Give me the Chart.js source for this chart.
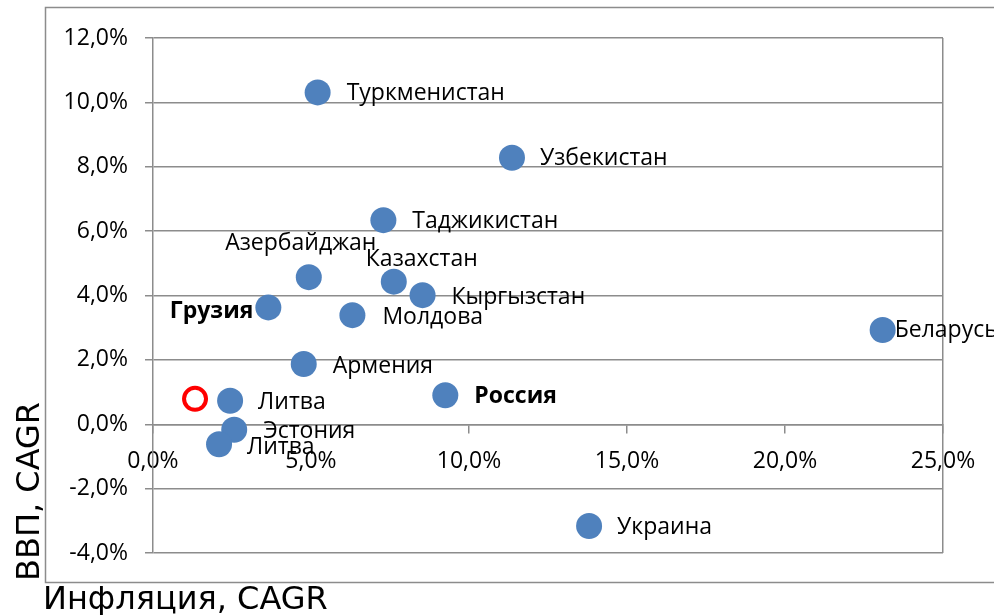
<!DOCTYPE html>
<html>
<head>
<meta charset="utf-8">
<script src="https://cdn.jsdelivr.net/npm/chart.js@4/dist/chart.umd.min.js"></script>
<style>
  html, body { margin: 0; padding: 0; background: #fff; }
  #wrap { width: 994px; height: 615px; position: relative; }
</style>
</head>
<body>
<div id="wrap"><canvas id="c" width="994" height="615"></canvas></div>
<script>
// ---- data (percent values) ----
const countries = ['Туркменистан','Узбекистан','Таджикистан','Азербайджан','Казахстан','Кыргызстан','Грузия','Молдова','Беларусь','Армения','Россия','Литва','Эстония','Литва','Украина'];
const inflation = [5.21, 11.36, 7.29, 4.93, 7.62, 8.53, 3.65, 6.31, 23.09, 4.77, 9.25, 2.44, 2.57, 2.09, 13.80];
const gdp       = [10.31, 8.28, 6.34, 4.57, 4.43, 4.01, 3.63, 3.39, 2.93, 1.87, 0.90, 0.73, -0.17, -0.62, -3.16];
const highlightInflation = [1.33];
const highlightGdp = [0.79];
const xTicks = [0, 5, 10, 15, 20, 25];
const yTicks = [-4, -2, 0, 2, 4, 6, 8, 10, 12];
const xTitle = 'Инфляция, CAGR';
const yTitle = 'ВВП, CAGR';

// ---- label placement (style, not data) ----
const labelPlace = [
  {dx: 29, dy: 1,  align: 'left'},
  {dx: 28, dy: 1,  align: 'left'},
  {dx: 29, dy: 1,  align: 'left'},
  {dx: -8, dy: -34, align: 'center'},
  {dx: 28, dy: -22, align: 'center'},
  {dx: 29, dy: 2,  align: 'left'},
  {dx: -15, dy: 4, align: 'right', bold: true},
  {dx: 30, dy: 2,  align: 'left'},
  {dx: 12, dy: 1,  align: 'left'},
  {dx: 29, dy: 2,  align: 'left'},
  {dx: 29, dy: 1,  align: 'left', bold: true},
  {dx: 28, dy: 2,  align: 'left'},
  {dx: 29, dy: 2,  align: 'left'},
  {dx: 28, dy: 3,  align: 'left'},
  {dx: 28, dy: 1,  align: 'left'}
];

const FONT = "'Open Sans'";
const TITLE_FONT = "'DejaVu Sans'";
const GRID = '#8c8c8c';
const fmt = v => v.toFixed(1).replace('.', ',') + '%';

const mainPoints = inflation.map((x, i) => ({x: x, y: gdp[i]}));
const hiPoints = highlightInflation.map((x, i) => ({x: x, y: highlightGdp[i]}));

const decor = {
  id: 'decor',
  beforeDraw(chart) {
    const ctx = chart.ctx;
    ctx.save();
    ctx.fillStyle = '#fff';
    ctx.fillRect(0, 0, chart.width, chart.height);
    ctx.strokeStyle = GRID;
    ctx.lineWidth = 1.5;
    ctx.strokeRect(45.5, 7.5, 1000, 575);
    ctx.restore();
  },
  afterDatasetsDraw(chart) {
    const ctx = chart.ctx;
    const meta = chart.getDatasetMeta(1);
    ctx.save();
    ctx.fillStyle = '#000';
    ctx.textBaseline = 'middle';
    meta.data.forEach((pt, i) => {
      const p = labelPlace[i];
      ctx.font = (p.bold ? 'bold ' : '') + '23px ' + FONT;
      ctx.textAlign = p.align;
      ctx.fillText(countries[i], pt.x + p.dx, pt.y + p.dy);
    });
    // axis titles
    ctx.font = '32px ' + TITLE_FONT;
    ctx.textAlign = 'left';
    ctx.textBaseline = 'alphabetic';
    ctx.fillText(xTitle, 43, 609);
    ctx.translate(39, 581);
    ctx.rotate(-Math.PI / 2);
    ctx.fillText(yTitle, 0, 0);
    ctx.restore();
  }
};

new Chart(document.getElementById('c'), {
  type: 'scatter',
  data: {
    datasets: [
      {
        data: hiPoints,
        pointRadius: 11,
        pointBorderWidth: 4,
        pointBorderColor: '#ff0000',
        pointBackgroundColor: '#ffffff',
        pointHoverRadius: 11
      },
      {
        data: mainPoints,
        pointRadius: 13,
        pointBorderWidth: 0,
        pointBackgroundColor: '#4f81bd',
        pointBorderColor: '#4f81bd',
        pointHoverRadius: 13
      }
    ]
  },
  options: {
    responsive: false,
    animation: false,
    events: [],
    layout: { padding: { left: 0, top: 38, right: 51, bottom: 62 } },
    plugins: { legend: { display: false }, tooltip: { enabled: false } },
    scales: {
      x: {
        type: 'linear',
        position: { y: 0 },
        min: 0, max: 25,
        afterBuildTicks(s) { s.ticks = xTicks.map(v => ({value: v})); },
        ticks: { callback: v => fmt(v), color: '#000', font: { family: FONT, size: 23 }, padding: 15, maxRotation: 0, autoSkip: false },
        grid: {
          color: ctx => (ctx.tick && ctx.tick.value === 25) ? GRID : 'rgba(0,0,0,0)',
          tickColor: GRID,
          tickLength: 8,
          lineWidth: 1.5
        },
        border: { color: GRID, width: 1.5 }
      },
      y: {
        type: 'linear',
        position: 'left',
        min: -4, max: 12,
        afterBuildTicks(s) { s.ticks = yTicks.map(v => ({value: v})); },
        afterFit(s) { s.width = 153; },
        ticks: { callback: v => fmt(v), color: '#000', font: { family: FONT, size: 23 }, padding: 17 },
        grid: { color: GRID, tickColor: GRID, tickLength: 8, lineWidth: 1.5 },
        border: { color: GRID, width: 1.5 }
      }
    }
  },
  plugins: [decor]
});
</script>
</body>
</html>
